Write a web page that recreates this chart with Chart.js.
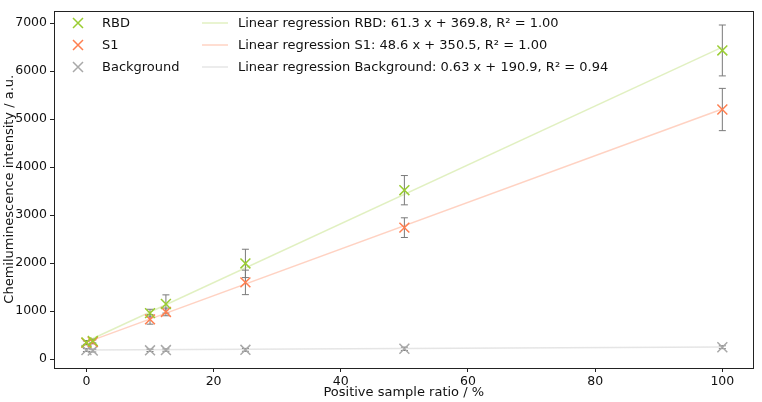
<!DOCTYPE html>
<html>
<head>
<meta charset="utf-8">
<script src="https://cdn.jsdelivr.net/npm/chart.js@4/dist/chart.umd.min.js"></script>
<style>
  html, body { margin: 0; padding: 0; background: #fff; }
  #wrap { width: 762px; height: 402px; }
</style>
</head>
<body>
<div id="wrap"><canvas id="c" width="762" height="402"></canvas></div>
<script>
// ---- data ----
const xValues = [0, 1, 10, 12.5, 25, 50, 100];
const rbdMean = [350, 380, 960, 1150, 1995, 3520, 6430];
const rbdErr  = [40, 40, 80, 190, 295, 305, 530];
const s1Mean  = [340, 360, 830, 985, 1600, 2740, 5200];
const s1Err   = [40, 40, 100, 80, 255, 205, 440];
const bgMean  = [190, 180, 185, 190, 195, 217, 250];
const bgErr   = [30, 30, 25, 25, 30, 35, 30];

const seriesNames = ['RBD', 'S1', 'Background'];
const regSlope = [61.3, 48.6, 0.63];
const regIntercept = [369.8, 350.5, 190.9];
const regR2 = ['1.00', '1.00', '0.94'];

const xTicks = [0, 20, 40, 60, 80, 100];
const yTicks = [0, 1000, 2000, 3000, 4000, 5000, 6000, 7000];

// ---- styles ----
const markerColors = ['#9acd32', '#ff7f50', '#a9a9a9'];
const lineColors = ['rgba(154,205,50,0.3)', 'rgba(255,127,80,0.35)', 'rgba(169,169,169,0.3)'];
const FONT = 'DejaVu Sans';

const means = [rbdMean, s1Mean, bgMean];
const errs = [rbdErr, s1Err, bgErr];

const scatterSets = seriesNames.map((n, i) => ({
  type: 'scatter',
  label: n,
  data: xValues.map((x, k) => ({ x: x, y: means[i][k] })),
  pointStyle: 'crossRot',
  radius: 7,
  pointRadius: 7,
  borderColor: markerColors[i],
  backgroundColor: markerColors[i],
  borderWidth: 1.5,
  order: 1
}));

const regSets = seriesNames.map((n, i) => ({
  type: 'line',
  label: 'Linear regression ' + n + ': ' + regSlope[i] + ' x + ' + regIntercept[i].toFixed(1) + ', R\u00b2 = ' + regR2[i],
  data: [xTicks[0], xTicks[xTicks.length - 1]].map(x => ({ x: x, y: regSlope[i] * x + regIntercept[i] })),
  borderColor: lineColors[i],
  borderWidth: 1.5,
  pointRadius: 0,
  fill: false,
  order: 2
}));

const errorBarPlugin = {
  id: 'errorBars',
  beforeDatasetsDraw(chart) {
    const ctx = chart.ctx, xs = chart.scales.x, ys = chart.scales.y;
    ctx.save();
    ctx.strokeStyle = '#7a7a7a';
    ctx.lineWidth = 1;
    for (let i = 0; i < 3; i++) {
      for (let k = 0; k < xValues.length; k++) {
        const px = xs.getPixelForValue(xValues[k]);
        const top = ys.getPixelForValue(means[i][k] + errs[i][k]);
        const bot = ys.getPixelForValue(means[i][k] - errs[i][k]);
        ctx.beginPath();
        ctx.moveTo(px, top); ctx.lineTo(px, bot);
        ctx.moveTo(px - 3.5, top); ctx.lineTo(px + 3.5, top);
        ctx.moveTo(px - 3.5, bot); ctx.lineTo(px + 3.5, bot);
        ctx.stroke();
      }
    }
    ctx.restore();
  }
};

const framePlugin = {
  id: 'frame',
  afterDraw(chart) {
    const ctx = chart.ctx, a = chart.chartArea;
    ctx.save();
    ctx.strokeStyle = '#222';
    ctx.lineWidth = 1;
    ctx.strokeRect(Math.round(a.left) + 0.5, Math.round(a.top) + 0.5, Math.round(a.right - a.left) - 1, Math.round(a.bottom - a.top) - 1);
    ctx.restore();
  }
};

const legendPlugin = {
  id: 'customLegend',
  afterDraw(chart) {
    const ctx = chart.ctx;
    const rows = [23, 45, 67];
    ctx.save();
    ctx.font = '13px "' + FONT + '"';
    ctx.textBaseline = 'middle';
    ctx.fillStyle = '#111';
    for (let i = 0; i < 3; i++) {
      const y = rows[i];
      ctx.strokeStyle = markerColors[i];
      ctx.lineWidth = 1.5;
      ctx.beginPath();
      ctx.moveTo(73, y - 5); ctx.lineTo(83, y + 5);
      ctx.moveTo(83, y - 5); ctx.lineTo(73, y + 5);
      ctx.stroke();
      ctx.fillText(scatterSets[i].label, 102, y + 1);
      ctx.strokeStyle = lineColors[i];
      ctx.beginPath();
      ctx.moveTo(202, y); ctx.lineTo(228, y);
      ctx.stroke();
      ctx.fillText(regSets[i].label, 238, y + 1);
    }
    ctx.restore();
  }
};

new Chart(document.getElementById('c'), {
  data: { datasets: [...scatterSets, ...regSets] },
  options: {
    responsive: false,
    animation: false,
    devicePixelRatio: 1,
    layout: { padding: { top: 1, right: 2, left: 0, bottom: 0 } },
    plugins: { legend: { display: false }, tooltip: { enabled: false } },
    scales: {
      x: {
        type: 'linear',
        min: -5.1, max: 104.9,
        afterBuildTicks: s => { s.ticks = xTicks.map(v => ({ value: v })); },
        afterFit: s => { s.height = 34; },
        grid: { display: true, drawOnChartArea: false, drawTicks: true, tickLength: 4, tickColor: '#222' },
        border: { display: false },
        ticks: { color: '#111', padding: 2, font: { family: FONT, size: 12.5 }, maxRotation: 0, callback: v => String(v) },
        title: { display: true, text: 'Positive sample ratio / %', color: '#111', font: { family: FONT, size: 13 }, padding: { top: 0, bottom: 2 } }
      },
      y: {
        type: 'linear',
        min: -183, max: 7262,
        afterBuildTicks: s => { s.ticks = yTicks.map(v => ({ value: v })); },
        afterFit: s => { s.width = 54; },
        grid: { display: true, drawOnChartArea: false, drawTicks: true, tickLength: 4, tickColor: '#222' },
        border: { display: false },
        ticks: { color: '#111', padding: 3, font: { family: FONT, size: 12.5 }, callback: v => String(v) },
        title: { display: true, text: 'Chemiluminescence intensity / a.u.', color: '#111', font: { family: FONT, size: 13 }, padding: { top: 2, bottom: 0 } }
      }
    }
  },
  plugins: [errorBarPlugin, framePlugin, legendPlugin]
});
</script>
</body>
</html>
